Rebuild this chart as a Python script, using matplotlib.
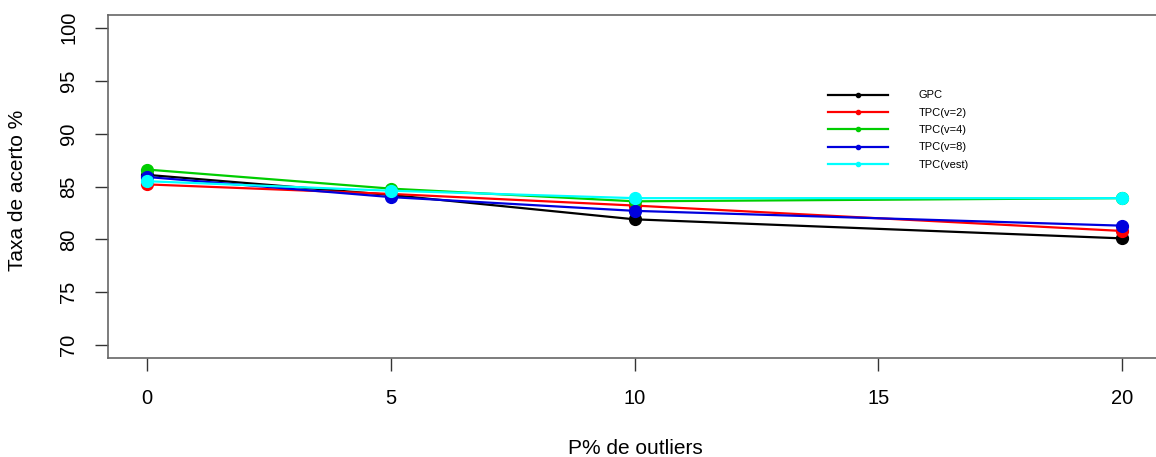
import matplotlib
matplotlib.use("Agg")
import matplotlib.pyplot as plt
from matplotlib.lines import Line2D

plt.rcParams['font.family'] = ['Liberation Sans', 'DejaVu Sans']

# percentage of outliers
outliers = [0, 5, 10, 20]

# accuracy (%) per model
gpc = [86.1, 84.2, 81.9, 80.1]
tpc_v2 = [85.2, 84.3, 83.2, 80.8]
tpc_v4 = [86.6, 84.8, 83.6, 83.9]
tpc_v8 = [85.9, 84.0, 82.7, 81.3]
tpc_vest = [85.5, 84.6, 83.9, 83.9]

series = [
    ("GPC", gpc, "black"),
    ("TPC(v=2)", tpc_v2, "red"),
    ("TPC(v=4)", tpc_v4, "#00CD00"),
    ("TPC(v=8)", tpc_v8, "#0000DD"),
    ("TPC(vest)", tpc_vest, "#00FFFF"),
]

x_ticks = [0, 5, 10, 15, 20]
y_ticks = [70, 75, 80, 85, 90, 95, 100]

fig = plt.figure(figsize=(11.56, 4.57), dpi=100)
ax = fig.add_axes([108 / 1156, 1 - 358 / 457, 1053 / 1156, 343 / 457])

for name, vals, col in series:
    ax.plot(outliers, vals, '-o', color=col, linewidth=1.6, markersize=8.5)

ax.set_xlim(-0.8, 20.8)
ax.set_ylim(68.8, 101.2)
ax.set_xticks(x_ticks)
ax.set_yticks(y_ticks)
ax.set_yticklabels([str(v) for v in y_ticks], rotation=90, va='center')
ax.tick_params(axis='both', direction='out', length=9.5, width=1, colors='black',
               labelsize=14.5, color='#333333')
ax.tick_params(axis='x', pad=13)
ax.tick_params(axis='y', pad=12)
for sp in ax.spines.values():
    sp.set_color('#666666')
    sp.set_linewidth(1.2)

fig.text(635 / 1156, 1 - 448 / 457, "P% de outliers", fontsize=15,
         ha='center', va='center')
fig.text(18 / 1156, 1 - 190 / 457, "Taxa de acerto %", fontsize=15,
         ha='center', va='center', rotation=90)

handles = [Line2D([0], [0], color=col, linewidth=1.6, marker='o', markersize=3)
           for name, vals, col in series]
labels = [name for name, vals, col in series]
ax.legend(handles, labels, loc='upper left', bbox_to_anchor=(0.680, 0.793),
          frameon=False, fontsize=8, handlelength=5.4, handletextpad=2.7,
          labelspacing=0.66, borderaxespad=0)

fig.savefig("out.png", dpi=100)
